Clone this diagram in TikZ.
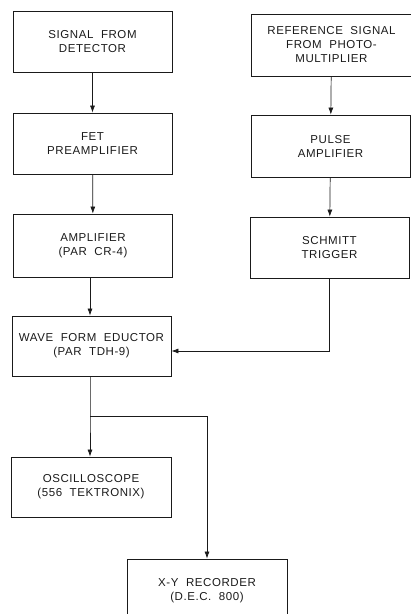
\documentclass[tikz,border=0pt]{standalone}
\usepackage{fontspec}
\setmainfont{Liberation Sans}[LetterSpace=5]
\usepackage{tikz}
\usetikzlibrary{arrows.meta,positioning}
\definecolor{inkGray}{HTML}{1A1A1A}

\begin{document}
\begin{tikzpicture}[x=1pt,y=-1pt,
    every node/.style={font=\fontsize{11.5}{14}\selectfont,text=inkGray},
    blockbox/.style={draw=inkGray,line width=0.8pt,align=center,inner sep=0pt,
      minimum width=159pt,minimum height=61pt},
    flow/.style={draw=inkGray,line width=0.7pt,-{Latex[length=7pt,width=5pt]}}]
  \clip (0,0) rectangle (411,614);
  % left column
  \node[blockbox] (det) at (92.5,42) {SIGNAL\ \ FROM\\DETECTOR};
  \node[blockbox] (fet) at (92.5,143.5) {FET\\PREAMPLIFIER};
  \node[blockbox,minimum height=63pt] (amp) at (93,245.5) {AMPLIFIER\\(PAR\ \ CR-4)};
  \node[blockbox,minimum height=60pt] (edu) at (91.5,346) {WAVE\ \ FORM\ \ EDUCTOR\\(PAR\ \ TDH-9)};
  \node[blockbox,minimum width=160pt,minimum height=60pt] (osc) at (91,487) {OSCILLOSCOPE\\(556\ \ TEKTRONIX)};
  \node[blockbox,minimum width=160pt,minimum height=64pt] (rec) at (207,591) {X-Y\ \ RECORDER\\(D.E.C.\ \ 800)};
  % right column
  \node[blockbox,minimum width=161pt,minimum height=62pt] (ref) at (331.5,45) {REFERENCE\ \ SIGNAL\\FROM\ \ PHOTO-\\MULTIPLIER};
  \node[blockbox,minimum height=62pt] (pul) at (330.5,146) {PULSE\\AMPLIFIER};
  \node[blockbox] (sch) at (329.5,247.5) {SCHMITT\\TRIGGER};
  \coordinate (split) at (90,416);
  % connectors
  \draw[flow] (det) -- (fet);
  \draw[flow] (fet) -- (amp);
  \draw[flow] (amp.south -| split) -- (edu.north -| split);
  \draw[flow] (ref) -- (pul);
  \draw[flow] (pul) -- (sch);
  \draw[flow] (sch.south) |- ([yshift=-5pt]edu.east);
  \draw[flow] (edu.south -| split) -- (split) -- (osc.north -| split);
  \draw[flow] (split) -| (rec.north);
\end{tikzpicture}
\end{document}
